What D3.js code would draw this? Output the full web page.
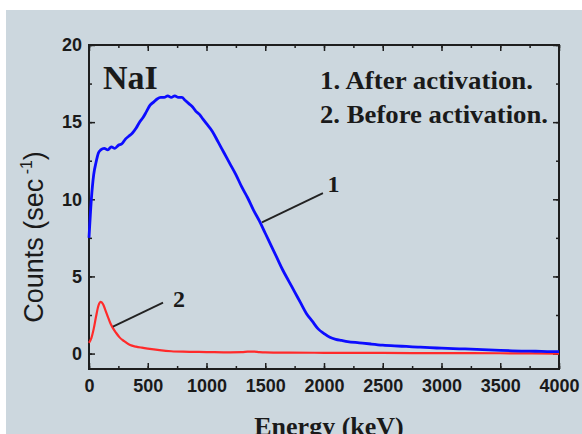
<!DOCTYPE html>
<html><head><meta charset="utf-8">
<script src="https://cdn.jsdelivr.net/npm/d3@7"></script>
<style>body{margin:0;background:#fff}svg{display:block}</style>
</head><body><svg id="c" width="582" height="434"></svg>
<script>
const xTicks = [0,500,1000,1500,2000,2500,3000,3500,4000];
const yTicks = [0,5,10,15,20];
const blueE = [0,20,40,60,80,100,130,160,190,220,250,280,310,340,370,400,430,460,490,520,550,580,610,640,670,700,730,760,790,820,850,880,910,940,970,1000,1050,1100,1150,1200,1250,1300,1350,1400,1450,1500,1550,1600,1650,1700,1750,1800,1850,1900,1950,2000,2050,2100,2150,2200,2300,2400,2500,2600,2700,2800,2900,3000,3100,3200,3300,3400,3500,3600,3700,3800,3900,4000];
const blueV = [7.5,10.0,11.6,12.4,13.0,13.2,13.3,13.2,13.4,13.3,13.5,13.6,13.9,14.1,14.3,14.6,15.0,15.3,15.7,16.1,16.3,16.5,16.6,16.6,16.7,16.6,16.7,16.6,16.6,16.4,16.2,16.0,15.7,15.5,15.2,14.9,14.4,13.7,13.0,12.3,11.6,10.8,10.1,9.3,8.6,7.8,7.0,6.2,5.4,4.7,4.0,3.3,2.6,2.1,1.6,1.3,1.05,0.92,0.85,0.78,0.7,0.62,0.55,0.5,0.46,0.42,0.38,0.35,0.32,0.3,0.27,0.24,0.21,0.18,0.16,0.15,0.13,0.12];
const redE = [0,20,40,60,80,100,120,140,160,180,200,230,260,300,350,400,450,500,600,700,800,1000,1200,1300,1350,1400,1450,1500,1700,2000,2500,3000,3500,4000];
const redV = [0.7,1.0,1.6,2.4,3.1,3.35,3.2,2.8,2.4,2.0,1.7,1.35,1.05,0.8,0.55,0.45,0.38,0.32,0.22,0.15,0.12,0.1,0.08,0.09,0.12,0.13,0.1,0.08,0.06,0.05,0.04,0.03,0.02,0.0];
const legendLines = ["1. After activation.", "2. Before activation."];

const svg = d3.select("#c");
svg.append("rect").attr("x",6).attr("y",10).attr("width",576).attr("height",424).attr("fill","#ccd7de");

const L=89, R=559, T=45, B=369;
const x = d3.scaleLinear().domain([0,4000]).range([L,R]);
const y = d3.scaleLinear().domain([-1,20]).range([B,T]);

const minorX = d3.range(0,4001,250), minorY = d3.range(0,20.1,2.5);
const axCol="#1e1e1e";
function axis(gen, tr, ticks, minor, labels){
  const g = svg.append("g").attr("transform",tr);
  g.call(gen.tickValues(minor).tickSize(-3).tickFormat(""));
  g.selectAll(".tick line").attr("stroke",axCol).attr("stroke-width",1.5);
  const g2 = svg.append("g").attr("transform",tr);
  g2.call(gen.tickValues(ticks).tickSize(-6).tickPadding(12).tickFormat(labels? d3.format("d"):""));
  g2.selectAll(".tick line").attr("stroke",axCol).attr("stroke-width",1.5);
  g.select(".domain").remove(); g2.select(".domain").remove();
  g2.selectAll("text").attr("font-family","Liberation Sans, Arial, sans-serif").attr("font-weight","bold").attr("font-size",18).attr("fill","#1a1a1a");
  return g2;
}
const bx = axis(d3.axisBottom(x), `translate(0,${B})`, xTicks, minorX, true);
bx.selectAll("text").attr("dy","0.71em").attr("y",10);
axis(d3.axisTop(x), `translate(0,${T})`, xTicks, minorX, false);
const ly = axis(d3.axisLeft(y), `translate(${L},0)`, yTicks, minorY, true);
ly.selectAll("text").attr("x",-7);
axis(d3.axisRight(y), `translate(${R},0)`, yTicks, minorY, false);

svg.append("rect").attr("x",L).attr("y",T).attr("width",R-L).attr("height",B-T)
  .attr("fill","none").attr("stroke",axCol).attr("stroke-width",2);

const line = d3.line().x(d=>x(d[0])).y(d=>y(d[1])).curve(d3.curveMonotoneX);
svg.append("path").attr("d",line(redE.map((e,i)=>[e,redV[i]]))).attr("fill","none").attr("stroke","#ff2a2a").attr("stroke-width",2.2);
svg.append("path").attr("d",line(blueE.map((e,i)=>[e,blueV[i]]))).attr("fill","none").attr("stroke","#0c0cff").attr("stroke-width",2.8);

// annotations
const serif = "Liberation Serif, Times New Roman, serif";
svg.append("line").attr("x1",x(1472)).attr("y1",y(8.5)).attr("x2",x(1991)).attr("y2",y(10.4)).attr("stroke","#222").attr("stroke-width",1.8);
svg.append("text").attr("x",x(2030)).attr("y",y(10.5)).text("1").attr("font-family",serif).attr("font-weight","bold").attr("font-size",24).attr("fill","#1a1a1a");
svg.append("line").attr("x1",x(204)).attr("y1",y(1.75)).attr("x2",x(630)).attr("y2",y(3.3)).attr("stroke","#222").attr("stroke-width",1.8);
svg.append("text").attr("x",x(715)).attr("y",y(3.0)).text("2").attr("font-family",serif).attr("font-weight","bold").attr("font-size",24).attr("fill","#1a1a1a");

svg.append("text").attr("x",103).attr("y",89).text("NaI").attr("font-family",serif).attr("font-weight","bold").attr("font-size",34).attr("fill","#1a1a1a");
legendLines.forEach((t,i)=>{
  svg.append("text").attr("x",320).attr("y",89+i*33.5).text(t).attr("font-family",serif).attr("font-weight","bold").attr("font-size",25)
    .attr("textLength", i==0?213:228).attr("lengthAdjust","spacingAndGlyphs").attr("fill","#1a1a1a");
});

svg.append("text").attr("x",(L+R)/2+5).attr("y",435).attr("text-anchor","middle").text("Energy (keV)")
  .attr("font-family",serif).attr("font-weight","bold").attr("font-size",26).attr("fill","#1a1a1a");

const yt = svg.append("text").attr("transform","translate(43,237) rotate(-90)").attr("text-anchor","middle")
  .attr("font-family","Liberation Sans, Arial, sans-serif").attr("font-size",27).attr("fill","#1a1a1a");
yt.append("tspan").text("Counts (sec");
yt.append("tspan").attr("dy",-11).attr("font-size",16).text(" -1");
yt.append("tspan").attr("dy",11).text(")");
</script></body></html>
